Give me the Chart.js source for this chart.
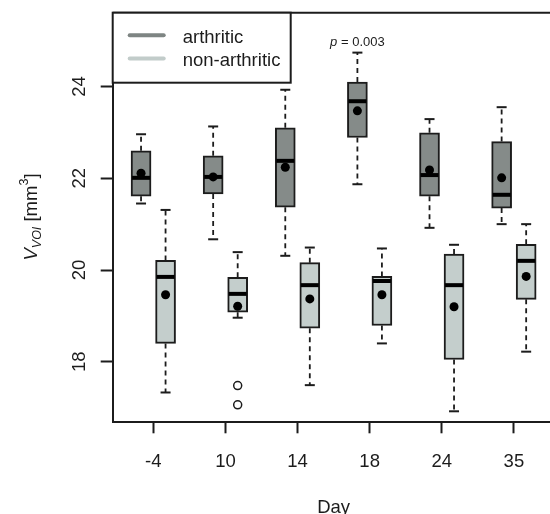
<!DOCTYPE html>
<html>
<head>
<meta charset="utf-8">
<script src="https://cdn.jsdelivr.net/npm/chart.js@4.4.1/dist/chart.umd.min.js"></script>
<style>
  html, body { margin: 0; padding: 0; background: #fff; overflow: hidden; }
  #wrap { width: 560px; height: 514px; }
</style>
</head>
<body>
<div id="wrap"><canvas id="chart" width="560" height="514"></canvas></div>
<script>
// Data
const days = ['-4', '10', '14', '18', '24', '35'];
const yTicks = [18, 20, 22, 24];

// arthritic
const arthLow  = [21.45, 20.67, 20.31, 21.87, 20.92, 21.00];
const arthQ1   = [21.61, 21.66, 21.37, 22.89, 21.61, 21.35];
const arthMed  = [22.01, 22.03, 22.38, 23.68, 22.07, 21.64];
const arthQ3   = [22.60, 22.49, 23.10, 24.10, 22.99, 22.80];
const arthHigh = [22.96, 23.13, 23.93, 24.74, 23.29, 23.55];
const arthMean = [22.11, 22.03, 22.24, 23.47, 22.18, 22.01];

// non-arthritic
const nonLow  = [17.33, 18.96, 17.49, 18.40, 16.92, 18.22];
const nonQ1   = [18.40, 19.08, 18.73, 18.79, 18.05, 19.36];
const nonMed  = [19.85, 19.48, 19.67, 19.76, 19.67, 20.20];
const nonQ3   = [20.21, 19.84, 20.16, 19.86, 20.35, 20.56];
const nonHigh = [21.31, 20.39, 20.49, 20.47, 20.55, 21.00];
const nonMean = [19.46, 19.21, 19.37, 19.46, 19.20, 19.86];

// outliers (non-arthritic, day 10)
const outlierDay = [2, 2];
const outlierVal = [17.48, 17.06];

const pText = '= 0.003';
const pDay = 4;

const shift = 0.17;
const FONT = '"Liberation Sans", Arial, sans-serif';
const INK = '#1c1c1c';
const arthFill = '#858b89';
const nonFill = '#c4cecc';

const groups = [
  { label: 'arthritic', off: -shift, low: arthLow, q1: arthQ1, med: arthMed, q3: arthQ3, high: arthHigh, line: '#7e8583' },
  { label: 'non-arthritic', off: shift, low: nonLow, q1: nonQ1, med: nonMed, q3: nonQ3, high: nonHigh, line: '#c2ccca' }
];

const boxPlugin = {
  id: 'boxParts',
  beforeDatasetsDraw(chart) {
    const { ctx, scales: { x, y } } = chart;
    ctx.save();
    ctx.strokeStyle = INK;
    groups.forEach(g => {
      g.q1.forEach((q, i) => {
        const cx = x.getPixelForValue(i + 1 + g.off);
        const segs = [[g.q3[i], g.high[i]], [q, g.low[i]]];
        segs.forEach(([from, to]) => {
          ctx.lineWidth = 1.8;
          ctx.setLineDash([5, 4]);
          ctx.beginPath();
          ctx.moveTo(cx, y.getPixelForValue(from));
          ctx.lineTo(cx, y.getPixelForValue(to));
          ctx.stroke();
          ctx.setLineDash([]);
          ctx.lineWidth = 2;
          ctx.beginPath();
          ctx.moveTo(cx - 5, y.getPixelForValue(to));
          ctx.lineTo(cx + 5, y.getPixelForValue(to));
          ctx.stroke();
        });
      });
    });
    ctx.restore();
  },
  afterDatasetDraw(chart, args) {
    const ds = chart.data.datasets[args.index];
    if (ds.group === undefined) return;
    const g = groups[ds.group];
    const { ctx, scales: { x, y } } = chart;
    ctx.save();
    ctx.strokeStyle = '#000';
    ctx.lineWidth = 4;
    g.med.forEach((m, i) => {
      const cx = x.getPixelForValue(i + 1 + g.off);
      const py = y.getPixelForValue(m);
      ctx.beginPath();
      ctx.moveTo(cx - 9, py);
      ctx.lineTo(cx + 9, py);
      ctx.stroke();
    });
    ctx.restore();
  },
  afterDraw(chart) {
    const { ctx, chartArea: a, scales: { x, y } } = chart;
    ctx.save();
    // top border of the plot box
    ctx.strokeStyle = INK;
    ctx.lineWidth = 2;
    ctx.beginPath();
    ctx.moveTo(a.left, a.top);
    ctx.lineTo(a.right, a.top);
    ctx.stroke();

    // y tick labels, rotated like R
    ctx.fillStyle = INK;
    ctx.font = '18.5px ' + FONT;
    ctx.textAlign = 'center';
    ctx.textBaseline = 'alphabetic';
    y.ticks.forEach(t => {
      ctx.save();
      ctx.translate(85, y.getPixelForValue(t.value));
      ctx.rotate(-Math.PI / 2);
      ctx.fillText(String(t.value), 0, 0);
      ctx.restore();
    });

    // y title: V_VOI [mm^3]
    const parts = [
      { t: 'V', f: 'italic 18.5px ' + FONT, dy: 0 },
      { t: 'VOI', f: 'italic 12.5px ' + FONT, dy: 4 },
      { t: ' [mm', f: '18.5px ' + FONT, dy: 0 },
      { t: '3', f: '12.5px ' + FONT, dy: -9 },
      { t: ']', f: '18.5px ' + FONT, dy: 0 }
    ];
    let total = 0;
    parts.forEach(p => { ctx.font = p.f; p.w = ctx.measureText(p.t).width; total += p.w; });
    ctx.save();
    ctx.translate(37, 217);
    ctx.rotate(-Math.PI / 2);
    ctx.textAlign = 'left';
    let px = -total / 2;
    parts.forEach(p => { ctx.font = p.f; ctx.fillText(p.t, px, p.dy); px += p.w; });
    ctx.restore();

    // p-value above day 18 arthritic box
    const pcx = x.getPixelForValue(pDay + groups[0].off);
    const pcy = y.getPixelForValue(arthHigh[pDay - 1]) - 7;
    ctx.font = 'italic 13px ' + FONT;
    const wp = ctx.measureText('p ').width;
    ctx.font = '13px ' + FONT;
    const wr = ctx.measureText(pText).width;
    ctx.textAlign = 'left';
    let sx = pcx - (wp + wr) / 2;
    ctx.font = 'italic 13px ' + FONT;
    ctx.fillText('p ', sx, pcy);
    ctx.font = '13px ' + FONT;
    ctx.fillText(pText, sx + wp, pcy);

    // legend box
    ctx.fillStyle = '#fff';
    ctx.fillRect(a.left, a.top, 178, 70);
    ctx.strokeStyle = INK;
    ctx.lineWidth = 2;
    ctx.strokeRect(a.left, a.top, 178, 70);
    groups.forEach((g, k) => {
      const ly = a.top + 22.5 + k * 23.3;
      ctx.strokeStyle = g.line;
      ctx.lineWidth = 4;
      ctx.lineCap = 'round';
      ctx.beginPath();
      ctx.moveTo(a.left + 17, ly);
      ctx.lineTo(a.left + 51, ly);
      ctx.stroke();
      ctx.fillStyle = INK;
      ctx.font = '18.5px ' + FONT;
      ctx.textAlign = 'left';
      ctx.fillText(g.label, a.left + 70, ly + 7.5);
    });
    ctx.restore();
  }
};

const boxData = g => g.q1.map((q, i) => ({ x: i + 1 + g.off, y: [q, g.q3[i]] }));
const pts = (vals, off) => vals.map((v, i) => ({ x: i + 1 + off, y: v }));

new Chart(document.getElementById('chart'), {
  type: 'bar',
  data: {
    datasets: [
      { type: 'scatter', data: pts(arthMean, -shift), pointRadius: 4.5, backgroundColor: '#000', borderWidth: 0, order: 0 },
      { type: 'scatter', data: pts(nonMean, shift), pointRadius: 4.5, backgroundColor: '#000', borderWidth: 0, order: 0 },
      { type: 'scatter', data: outlierVal.map((v, i) => ({ x: outlierDay[i] + shift, y: v })),
        pointRadius: 4, backgroundColor: '#fff', borderColor: INK, borderWidth: 1.5, order: 0 },
      { label: 'arthritic', group: 0, data: boxData(groups[0]), backgroundColor: arthFill, borderColor: INK,
        borderWidth: 2, borderSkipped: false, barThickness: 20, grouped: false, order: 2 },
      { label: 'non-arthritic', group: 1, data: boxData(groups[1]), backgroundColor: nonFill, borderColor: INK,
        borderWidth: 2, borderSkipped: false, barThickness: 20, grouped: false, order: 2 }
    ]
  },
  options: {
    responsive: false,
    animation: false,
    devicePixelRatio: 1,
    layout: { padding: { top: 12.7, right: 5.4, left: 0, bottom: 0 } },
    plugins: { legend: { display: false }, tooltip: { enabled: false } },
    scales: {
      x: {
        type: 'linear',
        min: 0.437,
        max: 6.563,
        offset: false,
        afterFit: s => { s.height = 91.7; },
        afterBuildTicks: s => { s.ticks = days.map((d, i) => ({ value: i + 1 })); },
        grid: { offset: false, drawOnChartArea: false, drawTicks: true, tickLength: 11, tickColor: INK, tickWidth: 2 },
        border: { display: true, color: INK, width: 2 },
        ticks: {
          autoSkip: false, maxRotation: 0, padding: 18, color: INK,
          font: { family: FONT, size: 18.5 },
          callback: v => days[v - 1]
        },
        title: { display: true, text: 'Day', color: INK, font: { family: FONT, size: 18.5 }, padding: { top: 0, bottom: -5 } }
      },
      y: {
        min: 16.68,
        max: 25.61,
        afterFit: s => { s.width = 112.7; },
        afterBuildTicks: s => { s.ticks = yTicks.map(v => ({ value: v })); },
        grid: { drawOnChartArea: false, drawTicks: true, tickLength: 12, tickColor: INK, tickWidth: 2 },
        border: { display: true, color: INK, width: 2 },
        ticks: { display: false }
      }
    }
  },
  plugins: [boxPlugin]
});
</script>
</body>
</html>
